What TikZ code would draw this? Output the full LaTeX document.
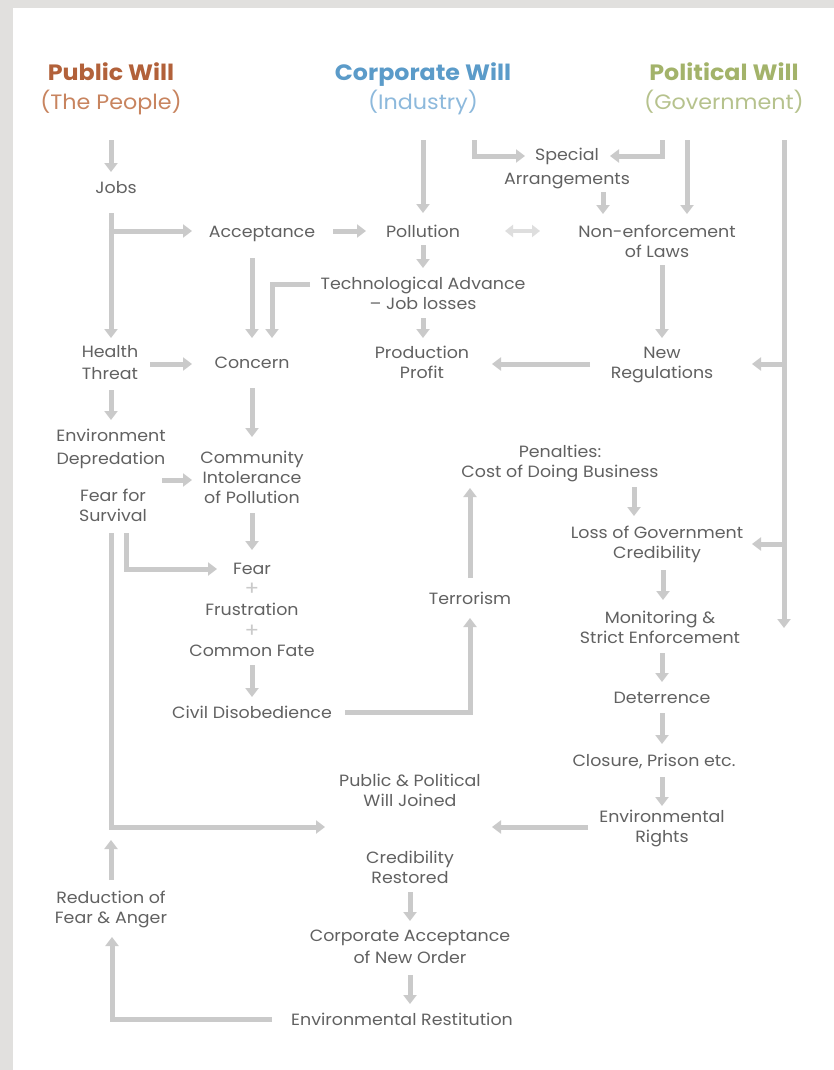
\documentclass[tikz,border=0pt]{standalone}
\usepackage{fontspec}
\setmainfont{Poppins}[FakeStretch=1.07]
\usetikzlibrary{arrows.meta,calc}
\definecolor{txt}{HTML}{616161}
\definecolor{arrc}{HTML}{CACACA}
\definecolor{arrl}{HTML}{DEDEDE}
\definecolor{pubc}{HTML}{B2613A}
\definecolor{publ}{HTML}{C8845F}
\definecolor{corc}{HTML}{5B9BC9}
\definecolor{corl}{HTML}{8DB9DC}
\definecolor{polc}{HTML}{A3B36A}
\definecolor{poll}{HTML}{B6C28D}
\definecolor{bgc}{HTML}{E1E0DE}
\tikzset{
  lbl/.style={text=txt,font=\fontsize{16.3}{20}\selectfont,align=center,inner sep=0pt},
  one/.style={lbl,text height=12pt,text depth=0pt},
  ttl/.style={font=\fontsize{22.2}{24}\selectfont\bfseries,inner sep=0pt,text height=16.5pt,text depth=0pt},
  sub/.style={font=\fontsize{20.8}{24}\selectfont,inner sep=0pt},
  plus/.style={text=arrc,font=\fontsize{20}{20}\selectfont,inner sep=0pt},
  arr/.style={draw=arrc,line width=5pt,-{Triangle[length=9pt,width=13pt]}},
  darr/.style={draw=arrl,line width=4.5pt,{Triangle[length=8pt,width=12pt]}-{Triangle[length=8pt,width=12pt]}}
}
\begin{document}
\begin{tikzpicture}[x=1pt,y=-1pt]
\fill[bgc] (0,0) rectangle (834,1070);
\fill[white] (13,8) rectangle (834,1070);
\useasboundingbox (0,0) rectangle (834,1070);
% titles
\node[ttl,text=pubc] (pw) at (111,72) {Public Will};
\node[sub,text=publ] (pwsub) at (111,102) {(The People)};
\node[ttl,text=corc] (cw) at (423,72) {Corporate Will};
\node[sub,text=corl] (cwsub) at (423,102) {(Industry)};
\node[ttl,text=polc] (polw) at (724,72) {Political Will};
\node[sub,text=poll] (polwsub) at (724,102) {(Government)};
% labels
\node[one] (jobs) at (116,187) {Jobs};
\node[one] (acc) at (262,231) {Acceptance};
\node[one] (poll) at (423,231) {Pollution};
\node[lbl,font=\fontsize{16.3}{24}\selectfont] (spec) at (567,168) {Special\\Arrangements};
\node[lbl] (nonenf) at (657,241) {Non-enforcement\\of Laws};
\node[lbl] (tech) at (423,293) {Technological Advance\\– Job losses};
\node[lbl] (prod) at (422,362) {Production\\Profit};
\node[lbl] (newreg) at (662,365) {New\\Regulations};
\node[one] (concern) at (252,362) {Concern};
\node[lbl,font=\fontsize{16.3}{22}\selectfont] (health) at (110,363) {Health\\Threat};
\node[lbl,font=\fontsize{16.3}{22.5}\selectfont] (envdep) at (111,449) {Environment\\Depredation};
\node[lbl] (fear4) at (113,505) {Fear for\\Survival};
\node[lbl] (comm) at (252,477) {Community\\Intolerance\\of Pollution};
\node[one] (fear) at (252,568) {Fear};
\node[plus] (plus1) at (252,589) {+};
\node[one] (frus) at (252,609) {Frustration};
\node[plus] (plus2) at (252,631) {+};
\node[one] (common) at (252,650) {Common Fate};
\node[one] (civil) at (252,712) {Civil Disobedience};
\node[one] (terror) at (470,598) {Terrorism};
\node[lbl] (penal) at (560,463) {Penalties:\\Cost of Doing Business};
\node[lbl] (loss) at (657,544) {Loss of Government\\Credibility};
\node[lbl] (monit) at (660,627) {Monitoring \&\\Strict Enforcement};
\node[one] (deter) at (662,697) {Deterrence};
\node[one] (closure) at (654,760) {Closure, Prison etc.};
\node[lbl] (envrights) at (662,828) {Environmental\\Rights};
\node[lbl] (joined) at (410,790) {Public \& Political\\Will Joined};
\node[lbl] (credrest) at (410,867) {Credibility\\Restored};
\node[lbl,font=\fontsize{16.3}{22}\selectfont] (corpacc) at (410,947) {Corporate Acceptance\\of New Order};
\node[one] (restit) at (402,1019) {Environmental Restitution};
\node[lbl] (reduc) at (111,909) {Reduction of\\Fear \& Anger};
\coordinate (longend) at (784,628);
\coordinate (redend) at (111,840);
% connectors
\draw[arr] ($(pwsub)+(0,38)$) -- ($(jobs)+(-5,-15)$);
\draw[arr] ($(jobs)+(-5,26)$) -- ($(health)+(1,-25)$);
\draw[arr] ($(jobs)+(-7.5,44)$) -- ($(acc)+(-70,0)$);
\draw[arr] ($(acc)+(71,0)$) -- ($(poll)+(-57,0)$);
\draw[arr] ($(cwsub)+(0,38)$) -- ($(poll)+(0,-18)$);
\draw[arr] ($(poll)+(0,14)$) -- ($(tech)+(0,-25)$);
\draw[darr] ($(poll)+(82,0)$) -- ($(nonenf)+(-117,-10)$);
\draw[arr] ($(cwsub)+(51,38)$) |- ($(spec)+(-42,-12)$);
\draw[arr] ($(polwsub)+(-62,38)$) |- ($(spec)+(43,-12)$);
\draw[arr] ($(spec)+(36,24)$) -- ($(nonenf)+(-54,-27)$);
\draw[arr] ($(polwsub)+(-37,38)$) -- ($(nonenf)+(30,-27)$);
\draw[arr] ($(polwsub)+(60,38)$) -- (longend);
\draw[arr] ($(polwsub)+(62.5,262)$) -- ($(newreg)+(90,-1)$);
\draw[arr] ($(polwsub)+(62.5,442)$) -- ($(loss)+(95,0)$);
\draw[arr] ($(nonenf)+(5,24)$) -- ($(newreg)+(0,-27)$);
\draw[arr] ($(newreg)+(-72,-1)$) -- ($(prod)+(70,2)$);
\draw[arr] ($(tech)+(0,25)$) -- ($(prod)+(1,-24)$);
\draw[arr] ($(tech)+(-113,-9)$) -| ($(concern)+(20,-24)$);
\draw[arr] ($(acc)+(-10,27)$) -- ($(concern)+(0,-24)$);
\draw[arr] ($(health)+(40,1)$) -- ($(concern)+(-60,2)$);
\draw[arr] ($(health)+(1,27)$) -- ($(envdep)+(0,-29)$);
\draw[arr] ($(fear4)+(49,-25)$) -- ($(comm)+(-60,3)$);
\draw[arr] ($(concern)+(0,26)$) -- ($(comm)+(0,-40)$);
\draw[arr] ($(comm)+(0,36)$) -- ($(fear)+(0,-18)$);
\draw[arr] ($(fear4)+(13,28)$) |- ($(fear)+(-35,1)$);
\draw[arr] ($(common)+(0,15)$) -- ($(civil)+(0,-15)$);
\draw[arr] ($(civil)+(93,0)$) -| ($(terror)+(0,20)$);
\draw[arr] ($(terror)+(0,-20)$) -- ($(penal)+(-90,25)$);
\draw[arr] ($(penal)+(74,24)$) -- ($(loss)+(-23,-28)$);
\draw[arr] ($(loss)+(6,26)$) -- ($(monit)+(3,-27)$);
\draw[arr] ($(monit)+(2,26)$) -- ($(deter)+(0,-15)$);
\draw[arr] ($(deter)+(0,16)$) -- ($(closure)+(8,-16)$);
\draw[arr] ($(closure)+(8,17)$) -- ($(envrights)+(0,-22)$);
\draw[arr] ($(envrights)+(-74,-1)$) -- ($(joined)+(82,37)$);
\draw[arr] ($(fear4)+(-2,28)$) |- ($(joined)+(-85,37)$);
\draw[arr] ($(credrest)+(0,25)$) -- ($(corpacc)+(0,-26)$);
\draw[arr] ($(corpacc)+(0,28)$) -- ($(restit)+(8,-15)$);
\draw[arr] ($(restit)+(-130,0)$) -| ($(reduc)+(1,28)$);
\draw[arr] ($(reduc)+(0,-29)$) -- (redend);
\end{tikzpicture}
\end{document}
